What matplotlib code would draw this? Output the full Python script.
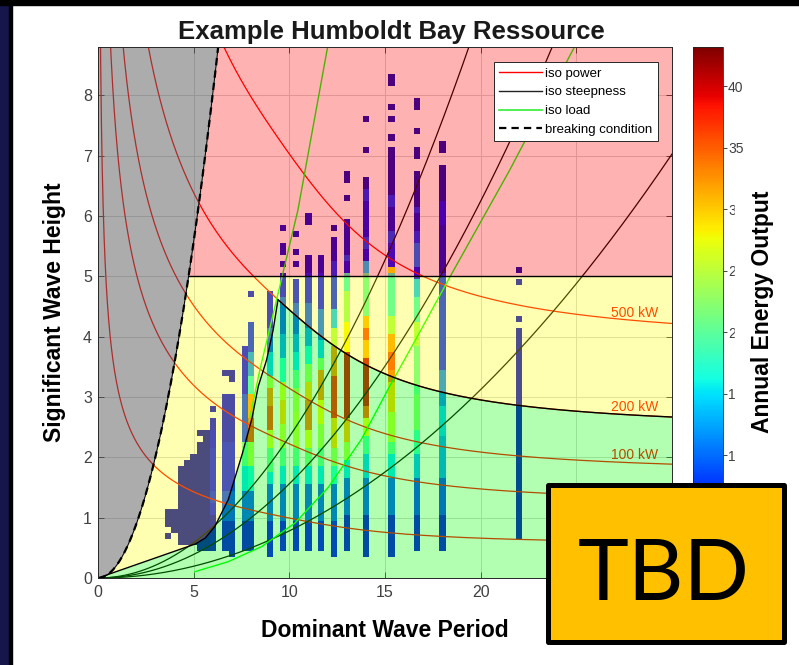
import numpy as np
import matplotlib
matplotlib.use('Agg')
import matplotlib.pyplot as plt
from matplotlib.patches import Rectangle
from matplotlib.lines import Line2D

plt.rcParams['font.family'] = ['Liberation Sans', 'DejaVu Sans']

# ---------------- data ----------------
t_max, h_max = 30.0, 8.8
cbar_max = 43.2
depth = 70.0                       # water depth used for the iso power lines
power_levels = [10, 50, 100, 200, 500]
power_labels = {100: '100 kW', 200: '200 kW', 500: '500 kW'}
steepness = [0.005, 0.01, 0.015]
breaking_steepness = 1 / 7.0
survival_H = 5.0

x_ticks = [0, 5, 10, 15, 20, 25, 30]
x_ticklabels = ['0', '5', '10', '15', '20', '', '']   # 25, 30 sit under the sticker
cbar_ticks = [10, 15, 20, 25, 30, 35, 40]

# yellow / green boundary (before it joins the 200 kW line)
bound_T = [0.0, 5.07, 5.6, 6.1, 6.8, 7.5, 8.03, 8.37, 8.8, 9.15]
bound_H = [0.0, 0.56, 0.66, 0.85, 1.29, 2.01, 2.62, 3.17, 3.6, 4.1]
bound_power = 200

# iso load lines
loadA_T = [7.9, 8.46, 9.4, 10.45, 12.0, 12.3]
loadA_H = [2.6, 3.45, 4.7, 6.1, 8.8, 9.3]
loadB_T = [5.07, 6.8, 8.55, 10.29, 12.03, 13.77, 15.2, 16.6, 18.5, 21.5, 24.9, 25.4]
loadB_H = [0.105, 0.27, 0.52, 0.91, 1.5, 2.3, 3.15, 3.95, 5.05, 6.75, 8.8, 9.1]

# occurrence cells: period columns, (H from, H to, value) runs
col_T = [6.667, 7.0, 7.667, 8.0, 9.0, 9.667, 10.333, 11.0, 11.667,
         12.333, 13.0, 14.0, 15.333, 16.667, 18.0, 22.0]
col_cells = [
    [(0.5, 0.9, 4), (1.0, 1.4, 8), (1.5, 2.2, 6), (2.3, 3.0, 4), (3.4, 3.4, 3)],
    [(0.4, 0.9, 4), (1.0, 1.4, 8), (1.5, 2.2, 6), (2.3, 3.0, 4), (3.3, 3.4, 3)],
    [(0.5, 0.9, 4), (1.0, 1.4, 9), (1.5, 1.8, 15), (1.9, 2.2, 20), (2.3, 3.0, 8),
     (3.1, 3.8, 5)],
    [(0.5, 0.9, 4), (1.0, 1.4, 9), (1.5, 1.8, 16), (1.9, 2.2, 24), (2.3, 2.6, 36),
     (2.7, 3.0, 32), (3.1, 3.3, 17), (3.4, 3.7, 12), (3.8, 4.2, 7), (4.7, 4.7, 4)],
    [(0.4, 0.9, 5), (1.0, 1.5, 9), (1.6, 1.7, 15), (1.8, 2.1, 20), (2.2, 2.4, 26),
     (2.5, 2.8, 36), (2.9, 3.1, 33), (3.2, 3.3, 24), (3.4, 3.7, 14), (3.8, 4.1, 9),
     (4.2, 4.7, 5)],
    [(0.5, 0.9, 5), (1.0, 1.5, 9), (1.6, 1.8, 15), (1.9, 2.1, 20), (2.2, 2.5, 25),
     (2.6, 2.9, 30), (3.0, 3.2, 26), (3.3, 3.6, 17), (3.7, 4.0, 12), (4.1, 4.6, 9),
     (4.7, 5.0, 5), (5.2, 5.2, 3), (5.4, 5.5, 3), (5.8, 5.8, 3)],
    [(0.5, 0.9, 5), (1.0, 1.5, 9), (1.6, 1.8, 15), (1.9, 2.1, 20), (2.2, 2.7, 25),
     (2.8, 3.1, 24), (3.2, 3.4, 20), (3.5, 3.7, 15), (3.8, 4.0, 12), (4.1, 4.5, 9),
     (4.6, 4.9, 6), (5.2, 5.2, 3), (5.4, 5.4, 3), (5.7, 5.7, 3)],
    [(0.5, 0.9, 5), (1.0, 1.5, 9), (1.6, 1.8, 15), (1.9, 2.1, 21), (2.2, 2.4, 27),
     (2.5, 2.9, 34), (3.0, 3.2, 30), (3.3, 3.5, 23), (3.6, 3.8, 16), (3.9, 4.1, 12),
     (4.2, 4.5, 9), (4.6, 5.0, 6), (5.1, 5.3, 3), (5.9, 6.0, 3)],
    [(0.5, 0.9, 5), (1.0, 1.5, 9), (1.6, 1.8, 15), (1.9, 2.1, 20), (2.2, 2.5, 24),
     (2.6, 2.9, 28), (3.0, 3.4, 33), (3.5, 3.6, 22), (3.7, 3.9, 14), (4.0, 4.4, 10),
     (4.5, 5.0, 6), (5.1, 5.3, 3)],
    [(0.4, 0.9, 5), (1.0, 1.5, 9), (1.6, 1.8, 17), (1.9, 2.1, 23), (2.2, 2.6, 30),
     (2.7, 3.3, 38), (3.4, 3.8, 33), (3.9, 4.1, 24), (4.2, 4.4, 14), (4.5, 5.2, 7),
     (5.3, 5.6, 3), (5.8, 5.8, 2)],
    [(0.5, 1.0, 4), (1.1, 1.6, 9), (1.7, 1.9, 15), (2.0, 2.2, 24), (2.3, 2.6, 31),
     (2.7, 3.7, 40), (3.8, 4.2, 28), (4.3, 4.7, 23), (4.8, 5.0, 18), (5.1, 5.2, 4),
     (5.3, 5.3, 8), (5.4, 5.9, 3), (6.3, 6.3, 2), (6.6, 6.7, 2)],
    [(0.4, 1.0, 4), (1.1, 1.6, 9), (1.7, 2.0, 14), (2.1, 2.3, 19), (2.4, 2.6, 27),
     (2.7, 2.8, 35), (2.9, 3.6, 40), (3.7, 3.9, 31), (4.0, 4.1, 36), (4.2, 4.3, 31),
     (4.4, 5.0, 20), (5.1, 5.2, 14), (5.3, 5.4, 4), (5.5, 5.6, 8), (5.7, 6.2, 4),
     (6.3, 6.4, 7), (6.5, 6.6, 2), (7.1, 7.1, 2), (7.6, 7.6, 2)],
    [(0.4, 1.0, 4), (1.1, 1.6, 9), (1.7, 2.0, 15), (2.1, 2.2, 20), (2.3, 2.7, 25),
     (2.8, 3.2, 30), (3.3, 3.4, 34), (3.5, 3.7, 36), (3.8, 4.0, 32), (4.1, 4.3, 24),
     (4.4, 5.0, 18), (5.1, 5.1, 28), (5.2, 5.5, 6), (5.6, 5.7, 8), (5.8, 6.1, 3),
     (6.2, 6.3, 7), (6.4, 7.1, 2), (7.3, 7.3, 2), (7.6, 7.6, 2), (7.8, 7.8, 2),
     (8.2, 8.3, 2)],
    [(0.5, 1.0, 4), (1.1, 1.6, 8), (1.7, 2.0, 13), (2.1, 2.4, 18), (2.5, 3.0, 22),
     (3.1, 3.8, 20), (3.9, 4.2, 24), (4.3, 4.6, 18), (4.7, 4.9, 14), (5.0, 5.1, 5),
     (5.2, 5.5, 10), (5.6, 5.7, 7), (5.8, 6.0, 3), (6.1, 6.1, 7), (6.2, 6.7, 2),
     (7.0, 7.1, 2), (7.4, 7.4, 2), (7.8, 7.9, 2)],
    [(0.5, 1.0, 4), (1.1, 1.6, 8), (1.7, 2.3, 12), (2.4, 2.8, 14), (2.9, 3.4, 11),
     (3.5, 5.0, 7), (5.1, 5.8, 3), (5.9, 6.2, 5), (6.3, 6.8, 2), (7.1, 7.2, 2)],
    [(0.7, 4.1, 3), (4.3, 4.3, 3), (4.9, 4.9, 3), (5.1, 5.1, 2)],
]

# short-period block: one row per H, running from blob_left to blob_right
blob_H = [0.5, 0.6, 0.7, 0.8, 0.9, 1.0, 1.1, 1.2, 1.3, 1.4, 1.5, 1.6, 1.7,
          1.8, 1.9, 2.0, 2.1, 2.2, 2.3, 2.4, 2.5, 2.6, 2.8]
blob_left = [5.333, 4.333, 4.333, 4.0, 3.667, 3.667, 3.667, 4.333, 4.333, 4.333,
             4.333, 4.333, 4.333, 4.333, 4.667, 5.0, 5.333, 5.333, 5.667, 5.333,
             6.0, 6.0, 6.0]
blob_edge_val = [3, 3, 3, 3, 3, 3, 6, 6, 7, 7, 6, 6, 6, 6, 6, 6, 6, 5, 5, 5, 4, 4, 3]
blob_right = 6.0
blob_val = 2
blob_extra = [(3.667, 0.7)]

# ---------------- helpers ----------------
g, rho = 9.81, 1025.0


def group_speed(T):
    w = 2 * np.pi / T
    k = w ** 2 / g
    for _ in range(60):
        th = np.tanh(k * depth)
        f = g * k * th - w ** 2
        df = g * th + g * k * depth * (1 - th ** 2)
        k = k - f / df
    x = np.minimum(2 * k * depth, 200)
    return 0.5 * (1 + x / np.sinh(x)) * w / k


def iso_power_H(P, T):
    return np.sqrt(8000.0 * P / (rho * g * group_speed(T)))


# occurrence grid (T step 1/3, H step 0.1)
Z = np.full((int(round(h_max * 10)) + 1, int(round(t_max * 3)) + 1), np.nan)
for T, segs in zip(col_T, col_cells):
    j = int(round(T * 3))
    for lo, hi, v in segs:
        Z[int(round(lo * 10)):int(round(hi * 10)) + 1, j] = v
jr = int(round(blob_right * 3))
for h, left, ev in zip(blob_H, blob_left, blob_edge_val):
    i = int(round(h * 10))
    Z[i, int(round(left * 3)):jr] = blob_val
    Z[i, jr] = ev
for T, h in blob_extra:
    Z[int(round(h * 10)), int(round(T * 3))] = blob_val
T_edges = (np.arange(Z.shape[1] + 1) - 0.5) / 3.0
H_edges = (np.arange(Z.shape[0] + 1) - 0.5) / 10.0

# ---------------- figure ----------------
W, H = 799, 665
fig = plt.figure(figsize=(W / 100, H / 100), dpi=100)
ax = fig.add_axes([98 / W, 1 - 578 / H, 574 / W, 531 / H])
cax = fig.add_axes([693 / W, 1 - 578 / H, 30 / W, 531 / H])

mesh = ax.pcolormesh(T_edges, H_edges, np.ma.masked_invalid(Z), cmap='jet',
                     vmin=0, vmax=cbar_max, zorder=1)

Tf = np.linspace(0.02, t_max, 3000)
for P in power_levels:
    ax.plot(Tf, iso_power_H(P, Tf), color='red', lw=0.9, zorder=2)
for s in steepness:
    ax.plot(Tf, s * g / (2 * np.pi) * Tf ** 2, color='black', lw=0.9, zorder=2)
ax.plot(loadA_T, loadA_H, color='#00ff00', lw=1.0, zorder=2)
ax.plot(loadB_T, loadB_H, color='#00ff00', lw=1.0, zorder=2)

T_lab = 29.3
for P, lab in power_labels.items():
    ax.annotate(lab, xy=(T_lab, iso_power_H(P, T_lab)), xytext=(0, 1.5),
                textcoords='offset points', ha='right', va='bottom',
                color='red', fontsize=10, zorder=2.5)

# region overlays
brk = breaking_steepness * g / (2 * np.pi) * Tf ** 2
Tp = Tf[Tf >= 9.4]
bT = np.concatenate([bound_T, Tp])
bH = np.concatenate([bound_H, iso_power_H(bound_power, Tp)])
bnd = np.interp(Tf, bT, bH)

ax.fill_between(Tf, np.minimum(brk, h_max), h_max, color='#5a5a5a', alpha=0.5, lw=0, zorder=3)
ax.fill_between(Tf, survival_H, np.clip(brk, survival_H, h_max), color='red', alpha=0.3, lw=0, zorder=3)
top_y = np.maximum(np.minimum(brk, survival_H), bnd)
ax.fill_between(Tf, bnd, top_y, color='yellow', alpha=0.3, lw=0, zorder=3)
ax.fill_between(Tf, 0, np.minimum(bnd, brk), color='#00ff00', alpha=0.3, lw=0, zorder=3)

T5 = np.sqrt(survival_H / (breaking_steepness * g / (2 * np.pi)))
ax.plot([T5, t_max], [survival_H, survival_H], color='black', lw=1.0, zorder=4)
ax.plot(Tf, bnd, color='black', lw=1.0, zorder=4)
ax.plot(Tf, brk, color='black', lw=0.7, zorder=4)
ax.plot(Tf, brk, color='black', lw=1.6, ls=(0, (3.3, 2.3)), zorder=4)

ax.set_xlim(0, t_max)
ax.set_ylim(0, h_max)
ax.set_xticks(x_ticks)
ax.set_xticklabels(x_ticklabels)
ax.set_yticks(np.arange(0, 9, 1))
ax.set_axisbelow(True)
ax.grid(True, color='#cfcfcf', lw=0.6)
ax.tick_params(direction='in', length=4, width=0.6, top=True, right=True,
               color='#262626', labelcolor='#404040', labelsize=11.5)
ax.tick_params(axis='x', pad=5)
ax.tick_params(axis='y', pad=4.3)
for sp in ax.spines.values():
    sp.set_color('#262626')
    sp.set_linewidth(0.7)
    sp.set_zorder(6)

handles = [Line2D([], [], color='red', lw=1.0),
           Line2D([], [], color='#222222', lw=1.0),
           Line2D([], [], color='#33ee33', lw=1.2),
           Line2D([], [], color='black', lw=1.6, ls=(0, (3.3, 2.3)))]
labels = ['iso power', 'iso steepness', 'iso load', 'breaking condition']
leg = ax.legend(handles, labels, loc='upper right',
                bbox_to_anchor=(1 - 14 / 574, 1 - 15 / 531), borderaxespad=0,
                fontsize=9.5, fancybox=False, framealpha=1, edgecolor='#262626',
                handlelength=3.2, handletextpad=0.3, labelspacing=0.5,
                borderpad=0.4)
leg.get_frame().set_linewidth(0.7)
leg.set_zorder(7)

cb = fig.colorbar(mesh, cax=cax, ticks=cbar_ticks)
cb.outline.set_edgecolor('#262626')
cb.outline.set_linewidth(0.6)
cax.tick_params(direction='out', length=3, width=0.6, pad=0.6,
                color='#262626', labelcolor='#404040', labelsize=10)

# texts
fig.text(391 / W, 1 - 39 / H, 'Example Humboldt Bay Ressource', ha='center',
         va='baseline', fontsize=18.5, fontweight='bold', color='#1a1a1a')
fig.text(385 / W, 1 - 637 / H, 'Dominant Wave Period', ha='center',
         va='baseline', fontsize=16.5, fontweight='bold')
fig.text(55 / W, 1 - 312 / H, 'Significant Wave Height', ha='center',
         va='center', rotation=90, fontsize=16.5, fontweight='bold')
fig.add_artist(Rectangle((735 / W, 1 - 468 / H), 55 / W, 298 / H,
                         transform=fig.transFigure, color='white', zorder=2))
fig.text(763 / W, 1 - 312 / H, 'Annual Energy Output', ha='center',
         va='center', rotation=90, fontsize=16.5, fontweight='bold', zorder=3)

# slide frame
fig.add_artist(Rectangle((0, 0), 8.5 / W, 1, transform=fig.transFigure,
                         color='#16164c', zorder=20))
fig.add_artist(Rectangle((8.5 / W, 0), 3 / W, 1, transform=fig.transFigure,
                         color='black', zorder=20))
fig.add_artist(Rectangle((0, 1 - 4.5 / H), 1, 4.5 / H, transform=fig.transFigure,
                         color='black', zorder=20))

# TBD sticker
fig.add_artist(Rectangle((547.5 / W, 1 - 641.5 / H), 236 / W, 157 / H,
                         transform=fig.transFigure, facecolor='#ffc000',
                         edgecolor='black', lw=3.6, joinstyle='round', zorder=30))
fig.text(664 / W, 1 - 600 / H, 'TBD', ha='center', va='baseline',
         fontsize=62, family=['Lato', 'DejaVu Sans'], color='black', zorder=31)

fig.savefig('out.png', dpi=100, facecolor='white')
